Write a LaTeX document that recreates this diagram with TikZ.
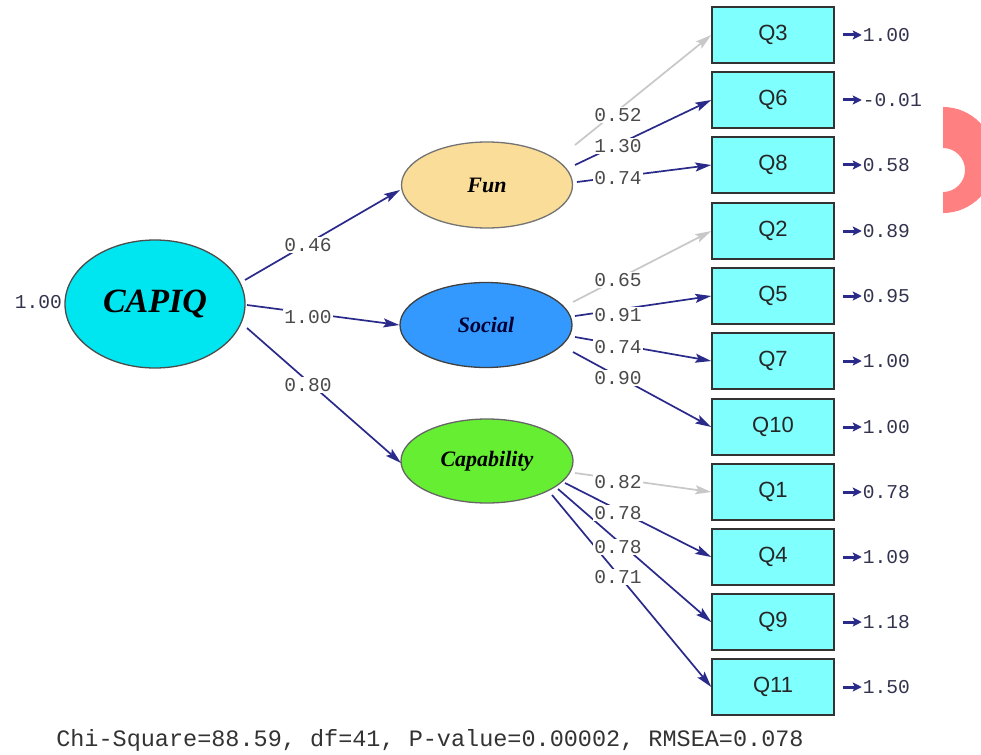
\documentclass[tikz,border=0pt]{standalone}
\usepackage{fontspec}
\setmainfont{Liberation Serif}
\newfontfamily\monof{Liberation Mono}
\newfontfamily\sansf{Liberation Sans}
\usetikzlibrary{calc,arrows.meta,shapes.geometric}
\definecolor{navyline}{HTML}{2A2A8A}
\definecolor{grayline}{HTML}{C8C8C8}
\definecolor{boxfill}{HTML}{80FFFF}
\definecolor{capfill}{HTML}{00E6F0}
\definecolor{funfill}{HTML}{FADD98}
\definecolor{socfill}{HTML}{3399FF}
\definecolor{abifill}{HTML}{66EE33}
\definecolor{pathtxt}{HTML}{4A4A4A}
\definecolor{errtxt}{HTML}{33334F}
\definecolor{pinkmark}{HTML}{FF8080}
\tikzset{
  obsbox/.style={draw=black!80, line width=1.5pt, fill=boxfill, rectangle,
    minimum width=122pt, minimum height=56pt, inner sep=0pt,
    font=\sansf\fontsize{22}{24}\selectfont, text=black!85},
  latent/.style={ellipse, line width=1.3pt, inner sep=0pt,
    font=\bfseries\itshape\fontsize{22}{24}\selectfont},
  pathlab/.style={fill=white, inner sep=1pt, text=pathtxt,
    font=\monof\fontsize{19.6}{20}\selectfont},
  errlab/.style={inner sep=0pt, text=errtxt, anchor=west,
    font=\monof\fontsize{19.6}{20}\selectfont},
  loading/.style={draw=navyline, line width=1.7pt,
    -{Stealth[length=16pt,width=9pt,inset=3pt]}},
  fixed/.style={draw=grayline, line width=1.7pt,
    -{Stealth[length=16pt,width=9pt,inset=3pt]}},
  errarrow/.style={draw=navyline, line width=3pt,
    -{Stealth[length=9pt,width=9pt,inset=2pt]}}
}
\begin{document}
\begin{tikzpicture}[x=1pt,y=-1pt]
\useasboundingbox (0,0) rectangle (981,754);
\fill[white] (0,0) rectangle (981,754);

% pink mark at right edge
\begin{scope}
  \clip (943,100) rectangle (981,220);
  \fill[pinkmark, even odd rule] (943,160) ellipse [x radius=52, y radius=53]
        (943,170) circle [radius=22];
\end{scope}

% latent variables
\node[latent, draw=black!70, fill=capfill, minimum width=180pt, minimum height=128pt,
      font=\bfseries\itshape\fontsize{34}{36}\selectfont] (capiq) at (155,304) {CAPIQ};
\node[latent, draw=black!55, fill=funfill, minimum width=171pt, minimum height=86pt] (fun) at (487,185) {Fun};
\node[latent, draw=black!75, fill=socfill, minimum width=172pt, minimum height=85pt, text=black!80!blue] (social) at (486,325) {Social};
\node[latent, draw=black!60, fill=abifill, minimum width=172pt, minimum height=84pt] (cap) at (487,461) {Capability};

% observed variables
\node[obsbox] (q3)  at (773,35)  {Q3};
\node[obsbox] (q6)  at (773,100) {Q6};
\node[obsbox] (q8)  at (773,165) {Q8};
\node[obsbox] (q2)  at (773,231) {Q2};
\node[obsbox] (q5)  at (773,296) {Q5};
\node[obsbox] (q7)  at (773,361) {Q7};
\node[obsbox] (q10) at (773,427) {Q10};
\node[obsbox] (q1)  at (773,492) {Q1};
\node[obsbox] (q4)  at (773,557) {Q4};
\node[obsbox] (q9)  at (773,622) {Q9};
\node[obsbox] (q11) at (773,687) {Q11};

% structural paths
\draw[loading] ($(capiq)+(90,-24)$) -- ($(fun)+(-87,5)$);
\draw[loading] ($(capiq)+(92,1)$) -- (social.west);
\draw[loading] ($(capiq)+(92,24)$) -- ($(cap)+(-86,2)$);

% measurement paths
\draw[fixed]   ($(fun)+(88,-40)$) -- (q3.west);
\draw[loading] ($(fun)+(88,-20)$) -- (q6.west);
\draw[loading] ($(fun)+(90,-3)$)  -- (q8.west);
\draw[fixed]   ($(social)+(87,-23)$) -- (q2.west);
\draw[loading] ($(social)+(89,-9)$)  -- (q5.west);
\draw[loading] ($(social)+(89,12)$)  -- (q7.west);
\draw[loading] ($(social)+(87,27)$)  -- (q10.west);
\draw[fixed]   ($(cap)+(88,12)$) -- (q1.west);
\draw[loading] ($(cap)+(78,22)$) -- (q4.west);
\draw[loading] ($(cap)+(71,28)$) -- (q9.west);
\draw[loading] ($(cap)+(65,34)$) -- (q11.west);

% path labels
\node[pathlab] (l46) at (308,245) {0.46};
\node[pathlab] (l100) at (308,317) {1.00};
\node[pathlab] (l80) at (308,385) {0.80};
\node[pathlab] (l52) at (618,115) {0.52};
\node[pathlab] (l130) at (618,146) {1.30};
\node[pathlab] (l74a) at (618,178) {0.74};
\node[pathlab] (l65) at (618,280) {0.65};
\node[pathlab] (l91) at (618,315) {0.91};
\node[pathlab] (l74b) at (618,347) {0.74};
\node[pathlab] (l90) at (618,378) {0.90};
\node[pathlab] (l82) at (618,482) {0.82};
\node[pathlab] (l78a) at (618,513) {0.78};
\node[pathlab] (l78b) at (618,547) {0.78};
\node[pathlab] (l71) at (618,577) {0.71};

% variance of CAPIQ
\node[errlab, anchor=east] (vcap) at (62,302) {1.00};

% error variances
\foreach \q/\v in {q3/1.00, q6/-0.01, q8/0.58, q2/0.89, q5/0.95, q7/1.00, q10/1.00, q1/0.78, q4/1.09, q9/1.18, q11/1.50}{
  \node[errlab] (e\q) at ($(\q.east)+(28,0)$) {\v};
  \draw[errarrow] ($(\q.east)+(8,0)$) -- ($(\q.east)+(27,0)$);
}

% fit statistics
\node[inner sep=0pt, text=black!80, font=\monof\fontsize{23.5}{25}\selectfont] (fit) at (430,740)
  {Chi-Square=88.59, df=41, P-value=0.00002, RMSEA=0.078};
\end{tikzpicture}
\end{document}
